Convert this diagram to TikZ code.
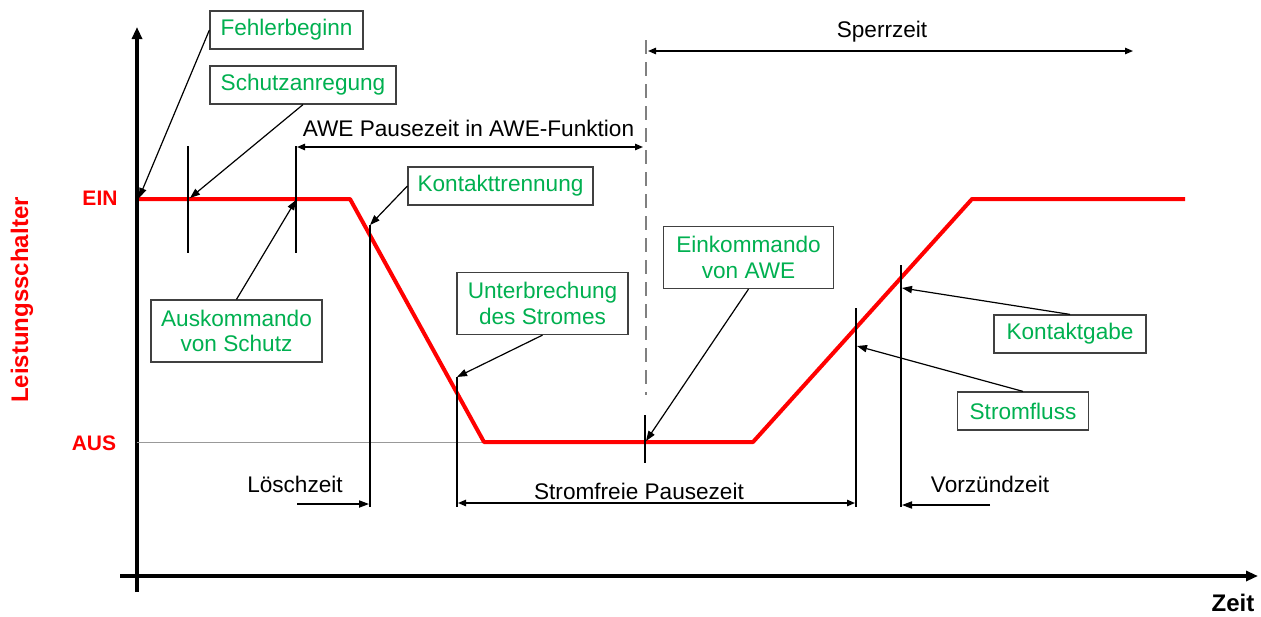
\documentclass[tikz,border=0pt]{standalone}
\usepackage{fontspec}
\setmainfont{Liberation Sans}
\usetikzlibrary{arrows.meta, positioning}
\definecolor{signalred}{RGB}{255,0,0}
\definecolor{labelgreen}{RGB}{0,176,80}
\definecolor{framegray}{RGB}{64,64,64}
\definecolor{dashgray}{RGB}{128,128,128}

\begin{document}
\begin{tikzpicture}[x=0.5pt, y=-0.5pt,
  every node/.style={font=\fontsize{11.3}{12.6}\selectfont},
  infobox/.style={draw=framegray, fill=white, text=labelgreen, align=center,
    inner xsep=5pt, inner ysep=3pt, minimum height=19pt, line width=0.6pt},
  pointer/.style={-{Triangle[length=5pt,width=3.6pt]}, line width=0.6pt},
  span/.style={{Triangle[length=4pt,width=3.2pt]}-{Triangle[length=4pt,width=3.2pt]}, line width=0.7pt},
  marker/.style={line width=0.7pt},
  axis/.style={line width=2pt, -{Triangle[length=6pt,width=5pt]}},
  state/.style={text=signalred, font=\fontsize{10.5}{12}\selectfont\bfseries}]
  \useasboundingbox (0,0) rectangle (1261,616);

  % Axes
  \draw[axis] (137,592) -- (137,27);
  \draw[axis] (120,576) -- (1258,576);
  \node[state] (ein) at (100,198) {EIN};
  \node[state] (aus) at (94,443) {AUS};
  \node[state, rotate=90, font=\fontsize{12}{14}\selectfont\bfseries] (schalter) at (22,300) {Leistungsschalter};
  \node[font=\fontsize{12}{14}\selectfont\bfseries, inner sep=1pt] (zeit) at (1233,603) {Zeit};

  % Switch state
  \draw[black!40, line width=0.5pt] (137,442) -- (485,442);
  \draw[signalred, line width=2pt, line join=round] (139,199) -- (350,199) -- (484,442) -- (753,442) -- (972,199) -- (1185,199);

  % Event instants
  \coordinate (fault) at (139,198);
  \coordinate (pickup) at (190,198);
  \coordinate (trip) at (296,200);
  \coordinate (open) at (370,225);
  \coordinate (interrupt) at (457,377);
  \coordinate (reclose) at (646,441);
  \coordinate (flow) at (857,346);
  \coordinate (contact) at (902,288);

  % Markers
  \draw[marker] (188,146) -- (188,253);
  \draw[marker] (296,146) -- (296,253);
  \draw[marker] (open) -- (370,507);
  \draw[marker] (interrupt) -- (457,507);
  \draw[marker] (645,415) -- (645,463);
  \draw[marker] (856,308) -- (856,507);
  \draw[marker] (901,265) -- (901,507);
  \draw[dashgray, dash pattern=on 7pt off 4pt, line width=0.65pt] (646,40) -- (646,395);

  % Event boxes
  \node[infobox, minimum width=76.5pt] (fehler) at (286.5,30) {Fehlerbeginn};
  \node[infobox, minimum width=93pt] (anregung) at (303,85) {Schutzanregung};
  \node[infobox, minimum width=85.5pt, minimum height=31pt] (auskmd) at (236.5,331) {Auskommando\\von Schutz};
  \node[infobox, minimum width=92.5pt, inner xsep=2.5pt] (trennung) at (500.5,186) {Kontakttrennung};
  \node[infobox, minimum width=85.5pt, minimum height=31pt] (unterbr) at (542.5,303.5) {Unterbrechung\\des Stromes};
  \node[infobox, minimum width=85pt, minimum height=31pt] (einkmd) at (748.5,257.5) {Einkommando\\von AWE};
  \node[infobox, minimum width=76pt] (gabe) at (1070,334) {Kontaktgabe};
  \node[infobox, minimum width=65.5pt] (fluss) at (1023,411) {Stromfluss};

  \draw[pointer] (fehler.west) -- (fault);
  \draw[pointer] (anregung.south) -- (pickup);
  \draw[pointer] (auskmd.north) -- (trip);
  \draw[pointer] (trennung.west) -- (open);
  \draw[pointer] (unterbr.south) -- (interrupt);
  \draw[pointer] (einkmd.south) -- (reclose);
  \draw[pointer] (gabe.north) -- (contact);
  \draw[pointer] (fluss.north) -- (flow);

  % Time spans
  \coordinate (awe_l) at (297,147);
  \coordinate (awe_r) at (643,147);
  \coordinate (sperr_l) at (648,51);
  \coordinate (sperr_r) at (1133,51);
  \coordinate (loesch_l) at (297,504);
  \coordinate (loesch_r) at (369,504);
  \coordinate (strom_l) at (458,503);
  \coordinate (strom_r) at (855,503);
  \coordinate (vorz_l) at (902,505);
  \coordinate (vorz_r) at (990,505);

  \node[anchor=base] (lbl_awe) at (468.5,136) {AWE Pausezeit in AWE-Funktion};
  \node[anchor=base] (lbl_sperr) at (882,37) {Sperrzeit};
  \node[anchor=base] (lbl_loesch) at (295,492) {Löschzeit};
  \node[anchor=base] (lbl_strom) at (639,499) {Stromfreie Pausezeit};
  \node[anchor=base] (lbl_vorz) at (990,492) {Vorzündzeit};

  \draw[span] (awe_l) -- (awe_r);
  \draw[span] (sperr_l) -- (sperr_r);
  \draw[pointer] (loesch_l) -- (loesch_r);
  \draw[span] (strom_l) -- (strom_r);
  \draw[pointer] (vorz_r) -- (vorz_l);
\end{tikzpicture}
\end{document}
